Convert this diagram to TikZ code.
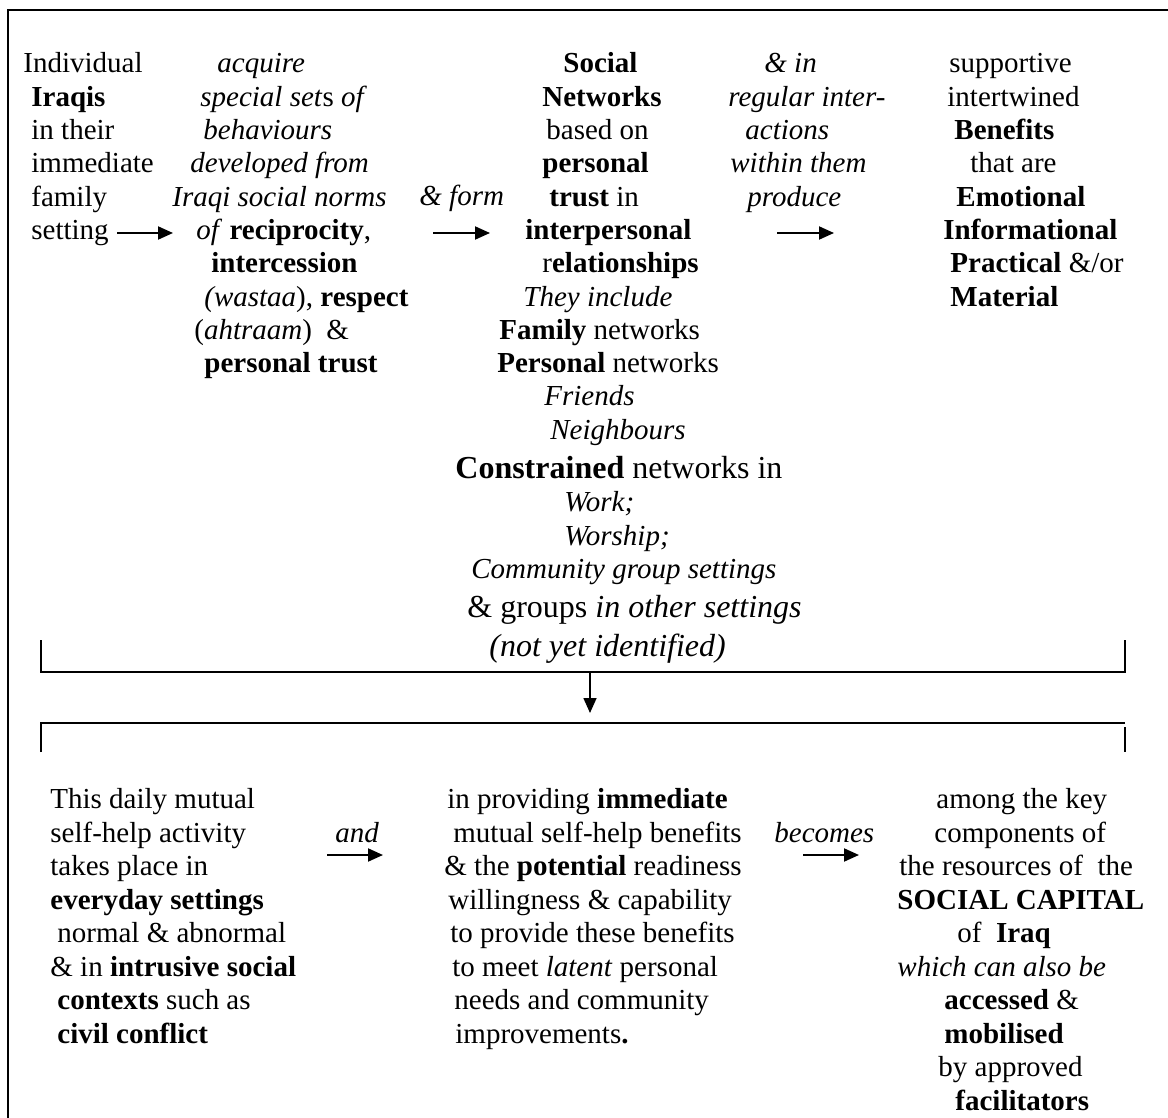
\documentclass[tikz,border=0pt]{standalone}
\usepackage{fontspec}
\setmainfont{Liberation Serif}
\usetikzlibrary{arrows.meta}

\tikzset{
  txtline/.style={anchor=base west, inner sep=0pt, font=\fontsize{14.5}{17}\selectfont},
  bigline/.style={txtline, font=\fontsize{16}{19}\selectfont},
  flow/.style={-{Triangle[length=7.5pt,width=6.5pt]}, line width=1pt},
  bracket/.style={line width=0.65pt},
}

\begin{document}
\begin{tikzpicture}[x=0.5pt,y=-0.5pt]
\useasboundingbox (0,0) rectangle (1168,1118);
\draw[line width=1.25pt] (8,1118) -- (8,10) -- (1168,10);

% top row of columns
\foreach \x/\lbl [count=\i from 0] in {23/{Individual}, 31/{\textbf{Iraqis}}, 31/{in their}, 31/{immediate}, 31/{family}, 31/{setting}}
  \node[txtline] (ind\i) at (\x,73+33.3*\i) {\lbl};

\foreach \x/\lbl [count=\i from 0] in {217/{\textit{acquire}}, 200/{\textit{special set}s \textit{of}}, 203/{\textit{behaviours}}, 190/{\textit{developed from}}, 172/{\textit{Iraqi social norms}}, 196/{\textit{of} \textbf{reciprocity},}, 211/{\textbf{intercession}}, 204/{\textit{(wastaa}), \textbf{respect}}, 194/{(\textit{ahtraam})\ \ \&}, 204/{\textbf{personal trust}}}
  \node[txtline] (norm\i) at (\x,73+33.3*\i) {\lbl};

\node[txtline] (form) at (419,206) {\textit{\& form}};

\foreach \x/\lbl [count=\i from 0] in {563/{\textbf{Social}}, 542/{\textbf{Networks}}, 546/{based on}, 542/{\textbf{personal}}, 549/{\textbf{trust} in}, 525/{\textbf{interpersonal}}, 542/{r\textbf{elationships}}, 523/{\textit{They include}}, 499/{\textbf{Family} networks}, 497/{\textbf{Personal} networks}}
  \node[txtline] (net\i) at (\x,73+33.3*\i) {\lbl};
\foreach \x/\y/\lbl [count=\i from 10] in {544/406/{\textit{Friends}}, 550/439/{\textit{Neighbours}}, 564/511/{\textit{Work;}}, 564/545/{\textit{Worship;}}, 471/578/{\textit{Community group settings}}}
  \node[txtline] (net\i) at (\x,\y) {\lbl};
\node[bigline] (constr) at (455,478) {\textbf{Constrained} networks in};
\node[bigline] (groups) at (467,617) {\& groups \textit{in other settings}};
\node[bigline] (notyet) at (489,656) {\textit{(not yet identified)}};

\foreach \x/\lbl [count=\i from 0] in {764/{\textit{\& in}}, 728/{\textit{regular inter-}}, 745/{\textit{actions}}, 730/{\textit{within them}}, 747/{\textit{produce}}}
  \node[txtline] (inter\i) at (\x,73+33.3*\i) {\lbl};

\foreach \x/\lbl [count=\i from 0] in {949/{supportive}, 947/{intertwined}, 954/{\textbf{Benefits}}, 970/{that are}, 956/{\textbf{Emotional}}, 943/{\textbf{Informational}}, 950/{\textbf{Practical} \&/or}, 950/{\textbf{Material}}}
  \node[txtline] (ben\i) at (\x,73+33.3*\i) {\lbl};

\coordinate (ind-a) at (117,233);  \coordinate (norm-a) at (173,233);
\coordinate (form-a) at (433,233); \coordinate (net-a) at (490,233);
\coordinate (inter-a) at (777,233); \coordinate (ben-a) at (834,233);
\draw[flow] (ind-a) -- (norm-a);
\draw[flow] (form-a) -- (net-a);
\draw[flow] (inter-a) -- (ben-a);

% brackets
\draw[bracket] (41,640) -- (41,672) -- (1125,672) -- (1125,640);
\draw[bracket] (41,752) -- (41,723) -- (1125,723);
\draw[bracket] (1125,727) -- (1125,752);
\coordinate (top-b) at (590,672); \coordinate (low-b) at (590,713);
\draw[flow, line width=0.8pt] (top-b) -- (low-b);

% bottom row of columns
\foreach \x/\lbl [count=\i from 0] in {50/{This daily mutual}, 50/{self-help activity}, 50/{takes place in}, 50/{\textbf{everyday settings}}, 57/{normal \& abnormal}, 50/{\& in \textbf{intrusive social}}, 57/{\textbf{contexts} such as}, 57/{\textbf{civil conflict}}}
  \node[txtline] (help\i) at (\x,808.5+33.5*\i) {\lbl};

\node[txtline] (and) at (335,842) {\textit{and}};

\foreach \x/\lbl [count=\i from 0] in {447/{in providing \textbf{immediate}}, 453/{mutual self-help benefits}, 444/{\& the \textbf{potential} readiness}, 448/{willingness \& capability}, 450/{to provide these benefits}, 452/{to meet \textit{latent} personal}, 454/{needs and community}, 455/{improvements\textbf{.}}}
  \node[txtline] (prov\i) at (\x,808.5+33.5*\i) {\lbl};

\node[txtline] (becomes) at (774,842) {\textit{becomes}};

\foreach \x/\lbl [count=\i from 0] in {936/{among the key}, 934/{components of}, 899/{the resources of\ \ the}, 897/{\textbf{SOCIAL CAPITAL}}, 957/{of\ \ \textbf{Iraq}}, 897/{\textit{which can also be}}, 944/{\textbf{accessed} \&}, 944/{\textbf{mobilised}}, 938/{by approved}, 955/{\textbf{facilitators}}}
  \node[txtline] (cap\i) at (\x,808.5+33.5*\i) {\lbl};

\coordinate (and-a) at (327,855);  \coordinate (prov-a) at (383,855);
\coordinate (bec-a) at (803,855);  \coordinate (cap-a) at (859,855);
\draw[flow] (and-a) -- (prov-a);
\draw[flow] (bec-a) -- (cap-a);
\end{tikzpicture}
\end{document}
